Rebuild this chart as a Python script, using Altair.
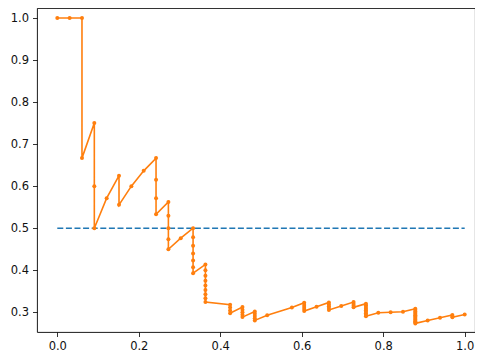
import altair as alt
import pandas as pd

# Precision-recall curve points
recall = [
    0.0, 0.0303, 0.0606, 0.0606, 0.0909, 0.0909, 0.0909, 0.1212, 0.1515, 0.1515,
    0.1818, 0.2121, 0.2424, 0.2424, 0.2424, 0.2424, 0.2727, 0.2727, 0.2727, 0.2727,
    0.2727, 0.3030, 0.3333, 0.3333, 0.3333, 0.3333, 0.3333, 0.3333, 0.3333, 0.3636,
    0.3636, 0.3636, 0.3636, 0.3636, 0.3636, 0.3636, 0.3636, 0.3636, 0.4242, 0.4242,
    0.4242, 0.4242, 0.4545, 0.4545, 0.4545, 0.4545, 0.4545, 0.4848, 0.4848, 0.4848,
    0.4848, 0.4848, 0.5152, 0.5758, 0.6061, 0.6061, 0.6061, 0.6061, 0.6061, 0.6364,
    0.6667, 0.6667, 0.6667, 0.6667, 0.6667, 0.6970, 0.7273, 0.7273, 0.7273, 0.7273,
    0.7576, 0.7576, 0.7576, 0.7576, 0.7576, 0.7576, 0.7576, 0.7576, 0.7576, 0.7879,
    0.8182, 0.8485, 0.8788, 0.8788, 0.8788, 0.8788, 0.8788, 0.8788, 0.8788, 0.8788,
    0.8788, 0.8788, 0.8788, 0.8788, 0.8788, 0.9091, 0.9394, 0.9697, 0.9697, 0.9697,
    1.0,
]
precision = [
    1.0, 1.0, 1.0, 0.6667, 0.75, 0.6, 0.5, 0.5714, 0.625, 0.5556,
    0.6, 0.6364, 0.6667, 0.6154, 0.5714, 0.5333, 0.5625, 0.5294, 0.5, 0.4737,
    0.45, 0.4762, 0.5, 0.4783, 0.4583, 0.44, 0.4231, 0.4074, 0.3929, 0.4138,
    0.4, 0.3871, 0.375, 0.3636, 0.3529, 0.3429, 0.3333, 0.3243, 0.3182, 0.3111,
    0.3043, 0.2979, 0.3125, 0.3061, 0.3, 0.2941, 0.2885, 0.3019, 0.2963, 0.2909,
    0.2857, 0.2807, 0.2931, 0.3115, 0.3226, 0.3175, 0.3125, 0.3077, 0.3030, 0.3134,
    0.3235, 0.3188, 0.3143, 0.3099, 0.3056, 0.3151, 0.3243, 0.32, 0.3158, 0.3117,
    0.3205, 0.3165, 0.3125, 0.3086, 0.3049, 0.3012, 0.2976, 0.2941, 0.2907, 0.2989,
    0.3, 0.3011, 0.3085, 0.3053, 0.3021, 0.2990, 0.2959, 0.2929, 0.29, 0.2871,
    0.2843, 0.2816, 0.2788, 0.2762, 0.2736, 0.2804, 0.2870, 0.2936, 0.2909, 0.2883,
    0.2946,
]
baseline_x = [0.0, 1.0]
baseline_y = [0.5, 0.5]

x_ticks = [0.0, 0.2, 0.4, 0.6, 0.8, 1.0]
y_ticks = [0.3, 0.4, 0.5, 0.6, 0.7, 0.8, 0.9, 1.0]

pr = pd.DataFrame({"recall": recall, "precision": precision, "idx": list(range(len(recall)))})
base = pd.DataFrame({"recall": baseline_x, "precision": baseline_y})

FONT = "DejaVu Sans"
axis_common = dict(
    grid=False, domain=False, tickSize=4.5, tickWidth=0.8, tickColor="black",
    labelPadding=4, labelFontSize=11.5, labelFont=FONT, labelColor="#111111",
    title=None, format=".1f", labelFlush=False,
)
xscale = alt.Scale(domain=[-0.0498, 1.0253], nice=False, zero=False)
yscale = alt.Scale(domain=[0.2531, 1.0238], nice=False, zero=False)
xenc = alt.X("recall:Q", scale=xscale, axis=alt.Axis(values=x_ticks, **axis_common))
yenc = alt.Y("precision:Q", scale=yscale, axis=alt.Axis(values=y_ticks, **axis_common))

dashed = alt.Chart(base).mark_line(
    color="#1f77b4", strokeWidth=1.6, strokeDash=[6, 2.6]
).encode(x=xenc, y=yenc)

line = alt.Chart(pr).mark_line(color="#ff7f0e", strokeWidth=1.6).encode(
    x=xenc, y=yenc, order=alt.Order("idx:Q")
)
pts = alt.Chart(pr).mark_circle(color="#ff7f0e", size=16, opacity=1).encode(x=xenc, y=yenc)

chart = (
    alt.layer(dashed, line, pts)
    .properties(
        width=438,
        height=324,
        autosize=alt.AutoSizeParams(type="none"),
        padding={"left": 29, "top": 0, "right": 0, "bottom": 22},
    )
    .configure_view(stroke="black", strokeWidth=0.9)
)

chart.save("out.html", embed_options={"renderer": "svg", "actions": False})
